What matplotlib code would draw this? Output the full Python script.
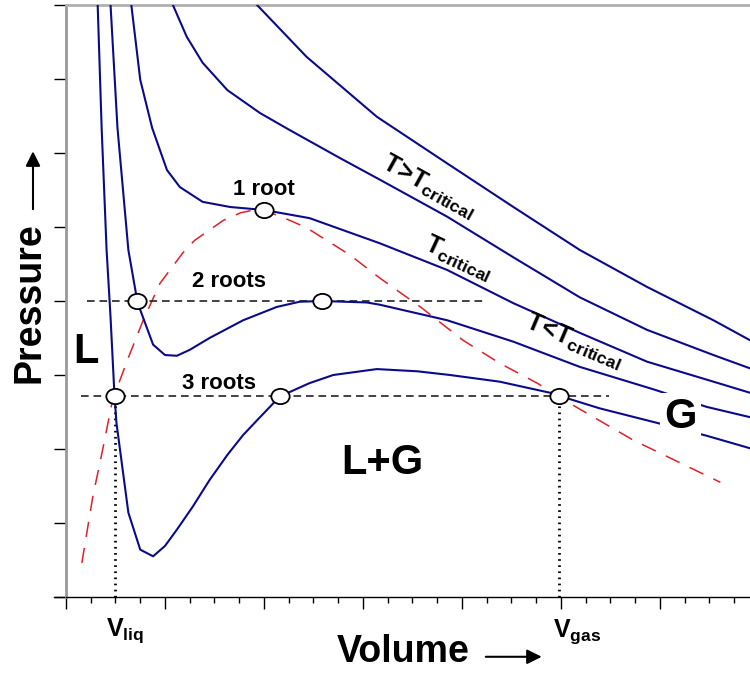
import matplotlib
matplotlib.use("Agg")
import matplotlib.pyplot as plt
from matplotlib.markers import MarkerStyle
from matplotlib.transforms import Affine2D
from matplotlib.lines import Line2D

plt.rcParams['font.family'] = ['Liberation Sans', 'DejaVu Sans']
plt.rcParams['mathtext.fontset'] = 'custom'
plt.rcParams['mathtext.rm'] = 'Liberation Sans:bold'
plt.rcParams['mathtext.it'] = 'Liberation Sans:bold'
plt.rcParams['mathtext.bf'] = 'Liberation Sans:bold'
plt.rcParams['mathtext.sf'] = 'Liberation Sans:bold'
plt.rcParams['lines.scale_dashes'] = False

# isotherms (volume, pressure in arbitrary units)
v_3roots = [0.32, 0.36, 0.41, 0.45, 0.49, 0.51, 0.63, 0.75, 0.88, 1.00, 1.12, 1.28, 1.45, 1.63,
            1.79, 1.96, 2.16, 2.46, 2.70, 3.14, 3.55, 3.88, 4.38, 4.89, 4.98, 5.39, 5.95, 6.47, 6.91]
p_3roots = [8.00, 6.34, 4.69, 3.78, 2.72, 2.35, 1.14, 0.64, 0.55, 0.69, 0.91, 1.22, 1.58, 1.92,
            2.19, 2.43, 2.71, 2.89, 3.00, 3.08, 3.05, 3.00, 2.91, 2.76, 2.72, 2.55, 2.36, 2.18, 2.01]

v_2roots = [0.45, 0.52, 0.63, 0.72, 0.75, 0.88, 1.00, 1.12, 1.25, 1.45, 1.79, 2.13, 2.36, 2.59,
            3.04, 3.17, 3.85, 4.52, 5.19, 5.95, 6.47, 6.91]
p_2roots = [8.00, 6.34, 4.69, 4.00, 3.88, 3.41, 3.27, 3.26, 3.34, 3.50, 3.74, 3.92, 3.99, 4.00,
            3.98, 3.95, 3.74, 3.45, 3.11, 2.80, 2.57, 2.43]

v_crit = [0.66, 0.75, 0.87, 1.02, 1.15, 1.38, 1.66, 2.00, 2.46, 3.17, 3.85, 4.52, 5.19, 5.87, 6.54, 6.91]
p_crit = [8.00, 6.99, 6.34, 5.77, 5.54, 5.34, 5.27, 5.23, 5.12, 4.78, 4.42, 3.97, 3.57, 3.18, 2.91, 2.76]

v_above = [1.08, 1.22, 1.38, 1.63, 1.96, 2.26, 2.77, 3.17, 3.85, 4.52, 5.19, 5.87, 6.54, 6.91]
p_above = [8.00, 7.57, 7.22, 6.85, 6.54, 6.31, 5.93, 5.64, 5.14, 4.59, 4.05, 3.61, 3.27, 3.09]

v_hot = [1.93, 2.43, 3.14, 3.85, 4.52, 5.19, 5.87, 6.54, 6.91]
p_hot = [8.00, 7.30, 6.49, 5.86, 5.27, 4.69, 4.19, 3.74, 3.47]

# red dashed envelope
v_env = [0.16, 0.27, 0.37, 0.47, 0.62, 0.78, 0.95, 1.18, 1.30, 1.59, 1.76, 1.93, 2.09, 2.26,
         2.43, 2.74, 2.87, 3.17, 3.58, 4.01, 4.38, 4.76, 5.06, 5.73, 6.61]
p_env = [0.46, 1.35, 1.99, 2.66, 3.20, 3.74, 4.24, 4.65, 4.82, 5.09, 5.19, 5.24, 5.18, 5.09,
         4.99, 4.73, 4.62, 4.31, 3.92, 3.47, 3.16, 2.89, 2.64, 2.12, 1.55]

# roots
p_two = 4.00
v_two = [0.72, 2.59]
span_two = [0.21, 4.23]
p_three = 2.72
v_three = [0.49, 2.16, 4.98]
span_three = [0.15, 5.49]
v_c, p_c = 2.00, 5.23
v_liq, v_gas = v_three[0], v_three[2]

navy = '#0b0b8a'

fig = plt.figure(figsize=(7.5, 6.75), dpi=100)
ax = fig.add_axes([66 / 750, 78 / 675, 684 / 750, 592 / 675])
ax.set_xlim(0, 6.91)
ax.set_ylim(0, 8)

for v, p in [(v_hot, p_hot), (v_above, p_above), (v_crit, p_crit), (v_2roots, p_2roots), (v_3roots, p_3roots)]:
    ax.plot(v, p, color=navy, lw=1.5, zorder=3)

ax.plot(v_env, p_env, color='#e0202a', lw=1.1, linestyle=(0, (11, 8)), zorder=2)

ax.plot(span_two, [p_two, p_two], color='#222222', lw=1.2, linestyle=(0, (5.5, 3.5)), zorder=2)
ax.plot(span_three, [p_three, p_three], color='#222222', lw=1.2, linestyle=(0, (5.5, 3.5)), zorder=2)

for v in [v_liq, v_gas]:
    ax.plot([v, v], [0, p_three], color='black', lw=2.0, linestyle=(0, (1.2, 3.2)), zorder=2)

oval = MarkerStyle('o', transform=Affine2D().scale(1.2, 1.0))
ax.plot(v_two, [p_two] * 2, linestyle='none', marker=oval, ms=11, mfc='white', mec='black', mew=1.3, zorder=5)
ax.plot(v_three, [p_three] * 3, linestyle='none', marker=oval, ms=11, mfc='white', mec='black', mew=1.3, zorder=5)
ax.plot([v_c], [p_c], linestyle='none', marker=oval, ms=11, mfc='white', mec='black', mew=1.3, zorder=5)

# labels
ax.text(2.00, 5.51, '1 root', fontsize=16, fontweight='bold', ha='center', va='center')
ax.text(1.65, 4.27, '2 roots', fontsize=16, fontweight='bold', ha='center', va='center')
ax.text(1.55, 2.89, '3 roots', fontsize=16, fontweight='bold', ha='center', va='center')
ax.text(0.20, 3.31, 'L', fontsize=30, fontweight='bold', ha='center', va='center')
ax.text(3.20, 1.81, 'L+G', fontsize=30, fontweight='bold', ha='center', va='center')
ax.text(6.21, 2.43, 'G', fontsize=30, fontweight='bold', ha='center', va='center', zorder=4,
        bbox=dict(facecolor='white', edgecolor='none', boxstyle='square,pad=0.1'))

ax.text(3.66, 5.55, r'$T\!>\!T_{critical}$', fontsize=18, rotation=-29, rotation_mode='anchor',
        ha='center', va='center')
ax.text(3.96, 4.58, r'$T_{critical}$', fontsize=18, rotation=-25, rotation_mode='anchor',
        ha='center', va='center')
ax.text(5.13, 3.46, r'$T\!<\!T_{critical}$', fontsize=18, rotation=-23, rotation_mode='anchor',
        ha='center', va='center')

xa = ax.get_xaxis_transform()
ax.text(v_liq + 0.11, -0.056, r'$V_{liq}$', fontsize=18, ha='center', va='center', transform=xa)
ax.text(v_gas + 0.18, -0.059, r'$V_{gas}$', fontsize=18, ha='center', va='center', transform=xa)

# axis titles with arrows
fig.text(0.039, 0.551, 'Pressure', fontsize=27, fontweight='bold', rotation=90, ha='center', va='center')
fig.text(0.537, 0.034, 'Volume', fontsize=27, fontweight='bold', ha='center', va='center')
fig.add_artist(matplotlib.patches.FancyArrowPatch((0.044, 0.686), (0.044, 0.780), transform=fig.transFigure,
                                                  arrowstyle='-|>', mutation_scale=22, lw=1.5, color='black'))
fig.add_artist(matplotlib.patches.FancyArrowPatch((0.644, 0.027), (0.726, 0.027), transform=fig.transFigure,
                                                  arrowstyle='-|>', mutation_scale=22, lw=1.5, color='black'))

# axes styling
ax.spines['right'].set_visible(False)
ax.spines['top'].set_color('#b0b0b0')
ax.spines['top'].set_linewidth(2)
ax.spines['left'].set_color('#999999')
ax.spines['left'].set_linewidth(2)
ax.spines['bottom'].set_linewidth(1)
ax.add_line(Line2D([-12 / 684, 0], [0, 0], transform=ax.transAxes, clip_on=False, color='black', lw=1))

ax.set_xticks(range(7))
ax.set_xticks([i * 0.25 for i in range(28)], minor=True)
ax.set_yticks(range(9))
ax.tick_params(axis='x', which='major', direction='out', length=8.6, width=1, labelbottom=False)
ax.tick_params(axis='x', which='minor', direction='out', length=4.3, width=1)
ax.tick_params(axis='y', which='major', direction='out', length=9, width=1, labelleft=False)

fig.savefig('out.png', dpi=100)
